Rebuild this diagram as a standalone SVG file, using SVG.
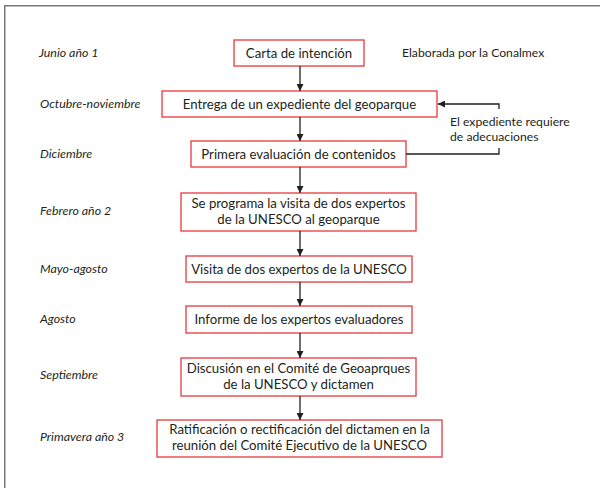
<svg xmlns="http://www.w3.org/2000/svg" width="600" height="488" viewBox="0 0 600 488">
  <defs>
    <marker id="ah" viewBox="0 0 10 10" refX="10" refY="5" markerWidth="7" markerHeight="7" markerUnits="userSpaceOnUse" orient="auto">
      <path d="M0,0 L10,5 L0,10 Z" fill="#231f20"/>
    </marker>
    <style>
      .box{fill:#fff;stroke:#e8383d;stroke-width:1.3}
      .t{font-family:Lato,"Liberation Sans",sans-serif;font-size:13.2px;fill:#231f20;text-anchor:middle}
      .lab{font-family:Lato,"Liberation Sans",sans-serif;font-size:12.4px;font-style:italic;fill:#231f20}
      .note{font-family:Lato,"Liberation Sans",sans-serif;font-size:12.2px;fill:#231f20}
      .c{fill:none;stroke:#231f20;stroke-width:1.3}
    </style>
  </defs>
  <rect x="0" y="0" width="600" height="488" fill="#fff"/>
  <path d="M4.75,488 V5.75 H600" fill="none" stroke="#77787b" stroke-width="1.5"/>

  <g id="labels">
    <text class="lab" x="39" y="57">Junio año 1</text>
    <text class="lab" x="40" y="108">Octubre-noviembre</text>
    <text class="lab" x="40" y="158">Diciembre</text>
    <text class="lab" x="40" y="215">Febrero año 2</text>
    <text class="lab" x="40" y="273">Mayo-agosto</text>
    <text class="lab" x="40" y="323">Agosto</text>
    <text class="lab" x="40" y="379">Septiembre</text>
    <text class="lab" x="40" y="441">Primavera año 3</text>
  </g>

  <g id="n1">
    <rect class="box" x="234" y="40" width="130" height="26"/>
    <text class="t" x="299" y="58">Carta de intención</text>
  </g>
  <g id="note1">
    <text class="note" x="402" y="57">Elaborada por la Conalmex</text>
  </g>
  <g id="n2">
    <rect class="box" x="162" y="91" width="275" height="26"/>
    <text class="t" x="299.5" y="109">Entrega de un expediente del geoparque</text>
  </g>
  <g id="n3">
    <rect class="box" x="191" y="141" width="215" height="26"/>
    <text class="t" x="298.5" y="159">Primera evaluación de contenidos</text>
  </g>
  <g id="note2">
    <text class="note" x="450" y="126">El expediente requiere</text>
    <text class="note" x="450" y="141">de adecuaciones</text>
  </g>
  <g id="n4">
    <rect class="box" x="181" y="193" width="235" height="38"/>
    <text class="t" x="298.5" y="208">Se programa la visita de dos expertos</text>
    <text class="t" x="298.5" y="224">de la UNESCO al geoparque</text>
  </g>
  <g id="n5">
    <rect class="box" x="186" y="256" width="226" height="26"/>
    <text class="t" x="299" y="274">Visita de dos expertos de la UNESCO</text>
  </g>
  <g id="n6">
    <rect class="box" x="186" y="306" width="226" height="27"/>
    <text class="t" x="299" y="324">Informe de los expertos evaluadores</text>
  </g>
  <g id="n7">
    <rect class="box" x="181" y="358" width="235" height="38"/>
    <text class="t" x="298.5" y="373">Discusión en el Comité de Geoaprques</text>
    <text class="t" x="298.5" y="389">de la UNESCO y dictamen</text>
  </g>
  <g id="n8">
    <rect class="box" x="157" y="420" width="285" height="37"/>
    <text class="t" x="299.5" y="434">Ratificación o rectificación del dictamen en la</text>
    <text class="t" x="299.5" y="450">reunión del Comité Ejecutivo de la UNESCO</text>
  </g>

  <g id="connectors">
    <line class="c" x1="300" y1="66" x2="300" y2="91" marker-end="url(#ah)"/>
    <line class="c" x1="300" y1="117" x2="300" y2="141" marker-end="url(#ah)"/>
    <line class="c" x1="300" y1="167" x2="300" y2="193" marker-end="url(#ah)"/>
    <line class="c" x1="300" y1="231" x2="300" y2="256" marker-end="url(#ah)"/>
    <line class="c" x1="300" y1="282" x2="300" y2="306" marker-end="url(#ah)"/>
    <line class="c" x1="300" y1="333" x2="300" y2="358" marker-end="url(#ah)"/>
    <line class="c" x1="300" y1="396" x2="300" y2="420" marker-end="url(#ah)"/>
    <path class="c" d="M499,109 V104 H438" marker-end="url(#ah)"/>
    <path class="c" d="M406,154 H499 V148"/>
  </g>
</svg>
